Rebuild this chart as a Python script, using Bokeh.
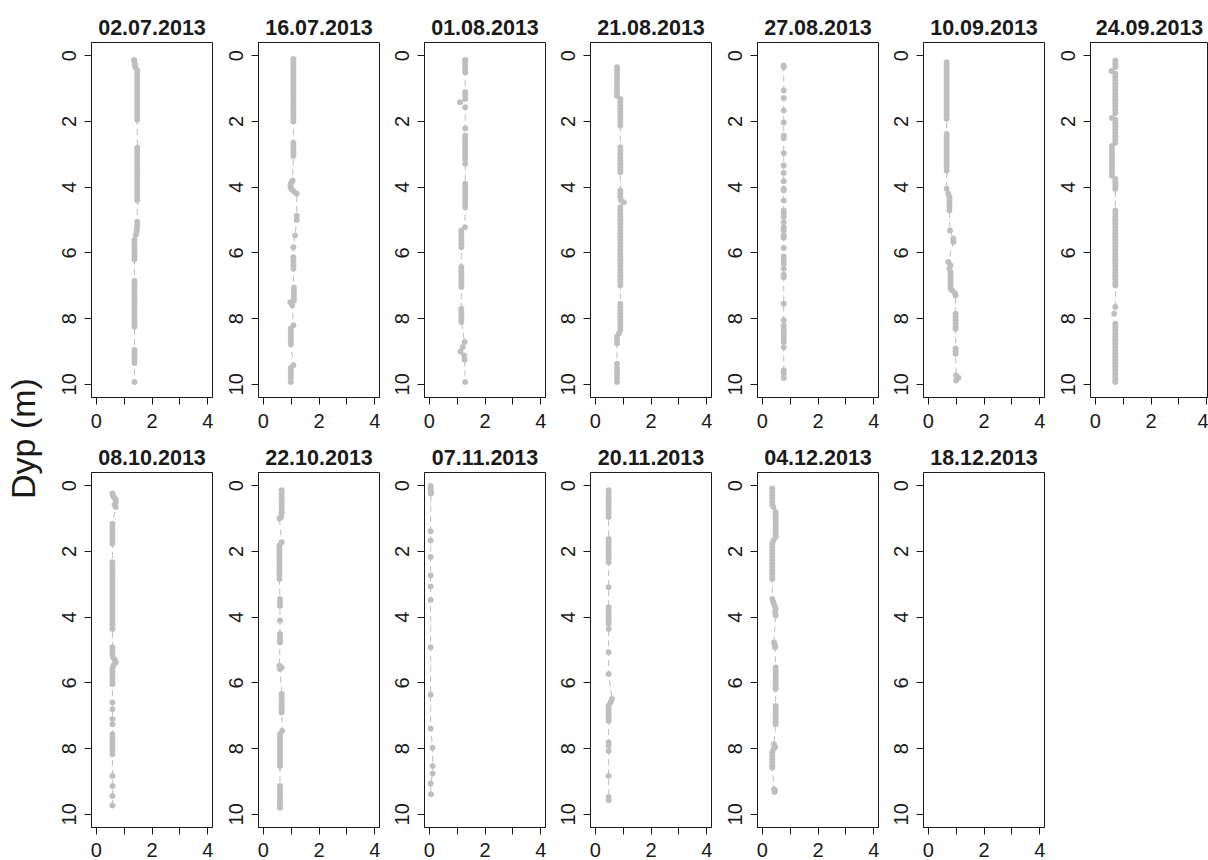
from bokeh.plotting import figure
from bokeh.layouts import row, column
from bokeh.models import Range1d, FixedTicker, ColumnDataSource
from bokeh.core.properties import value
from bokeh.embed import file_html
from bokeh.resources import INLINE

# ---------------- data (depth in m, measured value) ----------------
titles = ["02.07.2013", "16.07.2013", "01.08.2013", "21.08.2013", "27.08.2013",
          "10.09.2013", "24.09.2013", "08.10.2013", "22.10.2013", "07.11.2013",
          "20.11.2013", "04.12.2013", "18.12.2013"]
x_ticks = [0, 2, 4]
x_minor_ticks = [1, 3]
y_ticks = [0, 2, 4, 6, 8, 10]
y_label = "Dyp (m)"

d_0207 = [0.13, 0.2, 0.27, 0.35,
          0.45, 0.55, 0.65, 0.75, 0.85, 0.95, 1.05, 1.15, 1.25, 1.35, 1.45, 1.55, 1.65, 1.75, 1.85, 1.95,
          2.8, 2.9, 3.0, 3.1, 3.2, 3.3, 3.4, 3.5, 3.6, 3.7, 3.8, 3.9, 4.0, 4.1, 4.2, 4.3, 4.4,
          5.05, 5.15, 5.25, 5.35, 5.45,
          5.6, 5.7, 5.8, 5.9, 6.0, 6.1, 6.2,
          6.85, 6.95, 7.05, 7.15, 7.25, 7.35, 7.45, 7.55, 7.65, 7.75, 7.85, 7.95, 8.05, 8.15, 8.25,
          8.95, 9.05, 9.15, 9.25, 9.35,
          9.93]
v_0207 = [1.36, 1.37, 1.38, 1.40,
          1.47, 1.47, 1.47, 1.47, 1.47, 1.47, 1.47, 1.47, 1.47, 1.47, 1.47, 1.47, 1.47, 1.47, 1.47, 1.47,
          1.47, 1.47, 1.47, 1.47, 1.47, 1.47, 1.47, 1.47, 1.47, 1.47, 1.47, 1.47, 1.47, 1.47, 1.47, 1.47, 1.47,
          1.47, 1.47, 1.46, 1.45, 1.42,
          1.37, 1.37, 1.37, 1.37, 1.37, 1.37, 1.37,
          1.37, 1.37, 1.37, 1.37, 1.37, 1.37, 1.37, 1.37, 1.37, 1.37, 1.37, 1.37, 1.37, 1.37, 1.37,
          1.37, 1.37, 1.37, 1.37, 1.37,
          1.37]

d_1607 = [0.1, 0.2, 0.3, 0.4, 0.5, 0.6, 0.7, 0.8, 0.9, 1.0, 1.1, 1.2, 1.3, 1.4, 1.5, 1.6, 1.7, 1.8, 1.9, 2.0,
          2.65, 2.75, 2.85, 2.95, 3.05,
          3.8, 3.87, 3.93, 4.0, 4.07, 4.13, 4.2,
          4.87, 5.0, 5.47, 5.83,
          6.13, 6.25, 6.37, 6.48,
          7.05, 7.15, 7.25, 7.35, 7.45, 7.5, 7.6,
          8.2, 8.3, 8.4, 8.5, 8.6, 8.7, 8.78,
          9.42, 9.5, 9.6, 9.7, 9.8, 9.93]
v_1607 = [1.08, 1.08, 1.08, 1.08, 1.08, 1.08, 1.08, 1.08, 1.08, 1.08, 1.08, 1.08, 1.08, 1.08, 1.08, 1.08, 1.08, 1.08, 1.08, 1.08,
          1.08, 1.08, 1.08, 1.08, 1.08,
          1.05, 1.0, 0.98, 0.98, 1.02, 1.1, 1.2,
          1.2, 1.2, 1.14, 1.08,
          1.08, 1.08, 1.08, 1.08,
          1.1, 1.1, 1.1, 1.1, 1.1, 0.97, 1.04,
          1.08, 0.99, 0.99, 0.99, 0.99, 0.99, 0.99,
          1.08, 0.99, 0.99, 0.99, 0.99, 0.99]

d_0108 = [0.13, 0.2, 0.28, 0.36, 0.44, 0.51,
          1.11, 1.2, 1.32, 1.42, 1.57,
          2.21, 2.43, 2.52, 2.61, 2.7, 2.79, 2.88, 2.97, 3.06, 3.15, 3.29,
          3.9, 4.0, 4.1, 4.2, 4.3, 4.4, 4.5, 4.61,
          5.22, 5.32, 5.42, 5.52, 5.62, 5.72, 5.83,
          6.43, 6.53, 6.63, 6.73, 6.83, 6.93, 7.04,
          7.7, 7.8, 7.9, 8.0, 8.1,
          8.71, 8.86, 9.0, 9.12, 9.25,
          9.93]
v_0108 = [1.29, 1.29, 1.29, 1.29, 1.29, 1.29,
          1.29, 1.29, 1.29, 1.1, 1.29,
          1.29, 1.29, 1.29, 1.29, 1.29, 1.29, 1.29, 1.29, 1.29, 1.29, 1.29,
          1.29, 1.29, 1.29, 1.29, 1.29, 1.29, 1.29, 1.29,
          1.28, 1.15, 1.15, 1.15, 1.15, 1.15, 1.15,
          1.15, 1.15, 1.15, 1.15, 1.15, 1.15, 1.15,
          1.15, 1.15, 1.15, 1.15, 1.15,
          1.27, 1.2, 1.12, 1.25, 1.27,
          1.29]

d_2108 = [0.35, 0.45, 0.55, 0.65, 0.75, 0.85, 0.95, 1.05, 1.15, 1.22,
          1.32, 1.42, 1.52, 1.62, 1.72, 1.82, 1.92, 2.02, 2.13,
          2.79, 2.89, 2.99, 3.09, 3.19, 3.29, 3.39, 3.47, 3.55,
          4.1, 4.2, 4.3, 4.4, 4.46,
          4.61, 4.71, 4.81, 4.91, 5.01, 5.11, 5.21, 5.31, 5.41, 5.51, 5.61, 5.71,
          5.81, 5.91, 6.01, 6.11, 6.21, 6.31, 6.41, 6.51, 6.61, 6.71, 6.81, 6.9, 6.99,
          7.55, 7.65, 7.75, 7.85, 7.95, 8.05, 8.15, 8.25, 8.35,
          8.45, 8.55, 8.65, 8.75,
          9.37, 9.5, 9.6, 9.7, 9.8, 9.93]
v_2108 = [0.78, 0.78, 0.78, 0.78, 0.78, 0.78, 0.78, 0.78, 0.78, 0.78,
          0.9, 0.9, 0.9, 0.9, 0.9, 0.9, 0.9, 0.9, 0.9,
          0.9, 0.9, 0.9, 0.9, 0.9, 0.9, 0.9, 0.9, 0.9,
          0.9, 0.9, 0.9, 0.92, 1.02,
          0.9, 0.9, 0.9, 0.9, 0.9, 0.9, 0.9, 0.9, 0.9, 0.9, 0.9, 0.9,
          0.9, 0.9, 0.9, 0.9, 0.9, 0.9, 0.9, 0.9, 0.9, 0.9, 0.9, 0.9, 0.9,
          0.9, 0.9, 0.9, 0.9, 0.9, 0.9, 0.9, 0.9, 0.9,
          0.85, 0.78, 0.78, 0.78,
          0.78, 0.78, 0.78, 0.78, 0.78, 0.78]

d_2708 = [0.30, 0.35, 1.06, 1.29, 1.67, 2.03, 2.43, 2.51, 2.97, 3.34, 3.57, 3.82, 4.05, 4.10,
          4.41, 4.71, 4.81, 4.91, 5.07, 5.22, 5.32, 5.47, 5.54, 5.85, 6.11, 6.20, 6.33, 6.48,
          6.66, 6.74, 7.55, 8.05, 8.21, 8.31, 8.41, 8.51, 8.61, 8.71, 8.87, 9.57, 9.67, 9.81]
v_2708 = [0.77, 0.77, 0.77, 0.77, 0.77, 0.77, 0.77, 0.77, 0.77, 0.77, 0.77, 0.77, 0.77, 0.77,
          0.77, 0.77, 0.77, 0.77, 0.77, 0.77, 0.77, 0.77, 0.77, 0.77, 0.77, 0.77, 0.77, 0.77,
          0.77, 0.77, 0.77, 0.77, 0.77, 0.77, 0.77, 0.77, 0.77, 0.77, 0.77, 0.77, 0.77, 0.77]

d_1009 = [0.2, 0.3, 0.4, 0.5, 0.6, 0.7, 0.8, 0.9, 1.0, 1.1, 1.2, 1.3, 1.4, 1.5, 1.6, 1.7, 1.8, 1.92,
          2.38, 2.48, 2.58, 2.68, 2.78, 2.88, 2.98, 3.08, 3.18, 3.28, 3.38, 3.5,
          4.05, 4.2, 4.3, 4.4, 4.5, 4.6, 4.71,
          5.32, 5.57, 5.67,
          6.28, 6.38, 6.48, 6.58, 6.68, 6.78, 6.88, 6.98, 7.08, 7.14, 7.22, 7.3,
          7.85, 7.95, 8.05, 8.15, 8.25, 8.31,
          8.91, 9.0, 9.07,
          9.73, 9.8, 9.88]
v_1009 = [0.66, 0.66, 0.66, 0.66, 0.66, 0.66, 0.66, 0.66, 0.66, 0.66, 0.66, 0.66, 0.66, 0.66, 0.66, 0.66, 0.66, 0.66,
          0.66, 0.66, 0.66, 0.66, 0.66, 0.66, 0.66, 0.66, 0.66, 0.66, 0.66, 0.66,
          0.66, 0.72, 0.76, 0.76, 0.76, 0.76, 0.76,
          0.78, 0.9, 0.9,
          0.72, 0.8, 0.76, 0.8, 0.8, 0.8, 0.8, 0.8, 0.8, 0.85, 0.95, 0.98,
          0.98, 0.98, 0.98, 0.98, 0.98, 0.98,
          0.98, 0.98, 0.98,
          1.0, 1.08, 1.0]

d_2409 = [0.15, 0.25, 0.35, 0.47, 0.55, 0.65, 0.75, 0.85, 0.95, 1.05, 1.15, 1.25, 1.35,
          1.45, 1.55, 1.65, 1.75, 1.9, 1.95, 2.05, 2.15, 2.25, 2.35, 2.45, 2.55, 2.65,
          2.75, 2.85, 2.95, 3.05, 3.15, 3.25, 3.35, 3.45, 3.55, 3.65,
          3.75, 3.85, 3.95, 4.05,
          4.71, 4.81, 4.91, 5.01, 5.11, 5.21, 5.31, 5.41, 5.51, 5.61, 5.71, 5.81,
          5.91, 6.01, 6.11, 6.21, 6.31, 6.41, 6.51, 6.61, 6.71, 6.81, 6.91, 6.99,
          7.65, 7.85,
          8.16, 8.26, 8.36, 8.46, 8.56, 8.66, 8.76, 8.86, 8.96, 9.06,
          9.16, 9.26, 9.36, 9.46, 9.56, 9.66, 9.76, 9.86, 9.93]
v_2409 = [0.72, 0.72, 0.72, 0.58, 0.72, 0.72, 0.72, 0.72, 0.72, 0.72, 0.72, 0.72, 0.72,
          0.72, 0.72, 0.72, 0.72, 0.6, 0.72, 0.72, 0.72, 0.72, 0.72, 0.72, 0.72, 0.72,
          0.6, 0.6, 0.6, 0.6, 0.6, 0.6, 0.6, 0.6, 0.6, 0.6,
          0.72, 0.72, 0.72, 0.72,
          0.72, 0.72, 0.72, 0.72, 0.72, 0.72, 0.72, 0.72, 0.72, 0.72, 0.72, 0.72,
          0.72, 0.72, 0.72, 0.72, 0.72, 0.72, 0.72, 0.72, 0.72, 0.72, 0.72, 0.72,
          0.72, 0.68,
          0.72, 0.72, 0.72, 0.72, 0.72, 0.72, 0.72, 0.72, 0.72, 0.72,
          0.72, 0.72, 0.72, 0.72, 0.72, 0.72, 0.72, 0.72, 0.72]

d_0810 = [0.24, 0.3, 0.36, 0.42, 0.5, 0.58, 0.65,
          1.16, 1.26, 1.36, 1.46, 1.56, 1.66, 1.77,
          2.33, 2.43, 2.53, 2.63, 2.73, 2.83, 2.93, 3.03, 3.13, 3.23, 3.33, 3.43, 3.53,
          3.63, 3.73, 3.83, 3.93, 4.03, 4.13, 4.23, 4.36,
          4.92, 5.02, 5.12, 5.22, 5.3, 5.38, 5.46, 5.56, 5.66, 5.76, 5.86, 5.96, 6.04,
          6.6, 6.8, 7.1, 7.26,
          7.56, 7.66, 7.76, 7.86, 7.96, 8.06, 8.17,
          8.83, 9.14, 9.44, 9.73]
v_0810 = [0.58, 0.6, 0.64, 0.7, 0.7, 0.66, 0.7,
          0.58, 0.58, 0.58, 0.58, 0.58, 0.58, 0.58,
          0.58, 0.58, 0.58, 0.58, 0.58, 0.58, 0.58, 0.58, 0.58, 0.58, 0.58, 0.58, 0.58,
          0.58, 0.58, 0.58, 0.58, 0.58, 0.58, 0.58, 0.58,
          0.58, 0.58, 0.58, 0.6, 0.66, 0.7, 0.62, 0.58, 0.58, 0.58, 0.58, 0.58, 0.58,
          0.58, 0.58, 0.58, 0.58,
          0.58, 0.58, 0.58, 0.58, 0.58, 0.58, 0.58,
          0.58, 0.58, 0.58, 0.58]

d_2210 = [0.14, 0.24, 0.34, 0.44, 0.54, 0.64, 0.74, 0.84, 0.95, 1.0,
          1.72, 1.82, 1.92, 2.02, 2.12, 2.22, 2.32, 2.42, 2.52, 2.62, 2.72, 2.84,
          3.45, 3.55, 3.65, 4.1,
          4.51, 4.61, 4.71, 4.77,
          5.48, 5.53, 5.58,
          6.34, 6.44, 6.54, 6.64, 6.74, 6.84, 6.9,
          7.46, 7.56, 7.66, 7.76, 7.86, 7.96, 8.06, 8.16, 8.26, 8.36, 8.46, 8.53,
          9.14, 9.24, 9.34, 9.44, 9.54, 9.64, 9.72, 9.8]
v_2210 = [0.66, 0.66, 0.66, 0.66, 0.66, 0.66, 0.66, 0.66, 0.64, 0.58,
          0.66, 0.58, 0.58, 0.58, 0.58, 0.58, 0.58, 0.58, 0.58, 0.58, 0.58, 0.58,
          0.6, 0.6, 0.6, 0.6,
          0.6, 0.6, 0.6, 0.6,
          0.58, 0.66, 0.6,
          0.66, 0.66, 0.66, 0.66, 0.66, 0.66, 0.66,
          0.68, 0.6, 0.6, 0.6, 0.6, 0.6, 0.6, 0.6, 0.6, 0.6, 0.6, 0.6,
          0.6, 0.6, 0.6, 0.6, 0.6, 0.6, 0.6, 0.6]

d_0711 = [0.01, 0.1, 0.2, 0.24, 1.39, 1.67, 2.17, 2.73, 3.07, 3.48, 4.92, 6.36,
          7.39, 7.97, 8.53, 8.76, 9.06, 9.39]
v_0711 = [0.05, 0.05, 0.06, 0.06, 0.05, 0.05, 0.05, 0.05, 0.05, 0.05, 0.05, 0.05,
          0.05, 0.12, 0.12, 0.12, 0.05, 0.06]

d_2011 = [0.14, 0.24, 0.34, 0.44, 0.54, 0.64, 0.74, 0.84, 0.95,
          1.62, 1.72, 1.82, 1.92, 2.02, 2.12, 2.22, 2.33,
          3.09, 3.7, 3.8, 3.9, 4.0, 4.1, 4.2, 4.36,
          5.07, 5.73,
          6.49, 6.59, 6.69, 6.79, 6.89, 6.99, 7.09, 7.16,
          7.81, 7.91, 8.07, 8.83, 9.47, 9.57]
v_2011 = [0.48, 0.48, 0.48, 0.48, 0.48, 0.48, 0.48, 0.48, 0.48,
          0.48, 0.48, 0.48, 0.48, 0.48, 0.48, 0.48, 0.48,
          0.48, 0.48, 0.48, 0.48, 0.48, 0.48, 0.48, 0.48,
          0.48, 0.48,
          0.6, 0.55, 0.48, 0.48, 0.48, 0.48, 0.48, 0.48,
          0.48, 0.48, 0.48, 0.48, 0.48, 0.48]

d_0412 = [0.09, 0.19, 0.29, 0.39, 0.49, 0.57, 0.65,
          0.8, 0.9, 1.0, 1.1, 1.2, 1.3, 1.4, 1.5, 1.56,
          1.67, 1.77, 1.87, 1.97, 2.07, 2.17, 2.27, 2.37, 2.47, 2.57, 2.67, 2.77, 2.84,
          3.45, 3.55, 3.65, 3.75, 3.85, 3.95,
          4.77, 4.85, 4.92,
          5.53, 5.63, 5.73, 5.83, 5.93, 6.03, 6.13, 6.19,
          6.7, 6.8, 6.9, 7.0, 7.1, 7.2, 7.26,
          7.87, 7.95, 8.02, 8.12, 8.22, 8.32, 8.42, 8.52, 8.58,
          9.24, 9.28, 9.32]
v_0412 = [0.36, 0.36, 0.36, 0.36, 0.36, 0.36, 0.4,
          0.48, 0.48, 0.48, 0.48, 0.48, 0.48, 0.48, 0.48, 0.48,
          0.4, 0.36, 0.36, 0.36, 0.36, 0.36, 0.36, 0.36, 0.36, 0.36, 0.36, 0.36, 0.36,
          0.36, 0.4, 0.44, 0.48, 0.46, 0.48,
          0.42, 0.46, 0.46,
          0.48, 0.48, 0.48, 0.48, 0.48, 0.48, 0.48, 0.48,
          0.48, 0.48, 0.48, 0.48, 0.48, 0.48, 0.48,
          0.42, 0.46, 0.4, 0.36, 0.36, 0.36, 0.36, 0.36, 0.36,
          0.42, 0.46, 0.44]

d_1812 = []
v_1812 = []

depths = [d_0207, d_1607, d_0108, d_2108, d_2708, d_1009, d_2409,
          d_0810, d_2210, d_0711, d_2011, d_0412, d_1812]
values = [v_0207, v_1607, v_0108, v_2108, v_2708, v_1009, v_2409,
          v_0810, v_2210, v_0711, v_2011, v_0412, v_1812]

# ---------------- style / layout ----------------
FONT = "Liberation Sans"
GRAY = "#bebebe"
INK = "#1a1a1a"
FW = 121          # frame width
FH = 355          # frame height
X0 = -0.17
PXU = 27.9        # pixels per x unit
LEFT_B = 43
right_b = [3, 2, 2, 3, 2, 3, 0]


def panel(title, d, v, frame_w, rb, top_b, bottom_b, x_standoff):
    x_end = X0 + frame_w / PXU
    p = figure(frame_width=frame_w, frame_height=FH, output_backend="svg",
               toolbar_location=None, title=title,
               x_range=Range1d(X0, x_end), y_range=Range1d(10.4, -0.4),
               min_border_left=LEFT_B, min_border_right=rb,
               min_border_top=top_b, min_border_bottom=bottom_b,
               background_fill_color="white", border_fill_color="white")
    p.outline_line_color = INK
    p.outline_line_width = 1
    p.xgrid.visible = False
    p.ygrid.visible = False
    p.title.text_font = FONT
    p.title.text_font_style = "bold"
    p.title.text_font_size = "21.5px"
    p.title.text_color = INK
    p.title.align = "center"
    p.title.standoff = 16
    if frame_w < FW:
        # keep the title centred on x = 2 like the full-width panels
        p.title.offset = (FW - frame_w) / 2.0

    p.xaxis.ticker = FixedTicker(ticks=x_ticks, minor_ticks=x_minor_ticks)
    p.yaxis.ticker = FixedTicker(ticks=y_ticks)
    for ax in (p.xaxis[0], p.yaxis[0]):
        ax.axis_line_color = INK
        ax.major_tick_line_color = INK
        ax.minor_tick_line_color = INK
        ax.major_tick_in = 0
        ax.major_tick_out = 7
        ax.minor_tick_in = 0
        ax.minor_tick_out = 7
        ax.major_label_text_font = FONT
        ax.major_label_text_font_size = "20px"
        ax.major_label_text_color = INK
    p.yaxis.minor_tick_line_color = None
    p.yaxis.major_label_orientation = "vertical"
    p.yaxis.major_label_standoff = 8
    p.xaxis.major_label_standoff = x_standoff

    if len(d) > 0:
        src = ColumnDataSource(dict(x=v, y=d))
        p.line("x", "y", source=src, line_color=GRAY, line_width=1, line_dash="6 4")
        p.scatter("x", "y", source=src, marker="circle", size=5.5,
                  fill_color=GRAY, line_color=GRAY, line_width=0.5)
    return p


top = []
for i in range(7):
    fw = FW if i < 6 else 118
    top.append(panel(titles[i], depths[i], values[i], fw, right_b[i], 42, 30, 9))
bottom = []
for i in range(7, 13):
    bottom.append(panel(titles[i], depths[i], values[i], FW, right_b[i - 7], 42, 10, 8))

H_LAB = 860
lab = figure(width=48, height=H_LAB, output_backend="svg", toolbar_location=None,
             x_range=Range1d(0, 48), y_range=Range1d(H_LAB, 0),
             x_axis_type=None, y_axis_type=None, min_border=0,
             outline_line_color=None, background_fill_color="white",
             border_fill_color="white")
lab.grid.visible = False
lab.text(x=[22], y=[438], text=[y_label], angle=1.5707963, text_align="center",
         text_baseline="middle", text_font=value(FONT), text_font_size="34px",
         text_color=INK)

layout = row(lab, column(row(*top), row(*bottom)))

open("out.html", "w").write(file_html(layout, INLINE))
